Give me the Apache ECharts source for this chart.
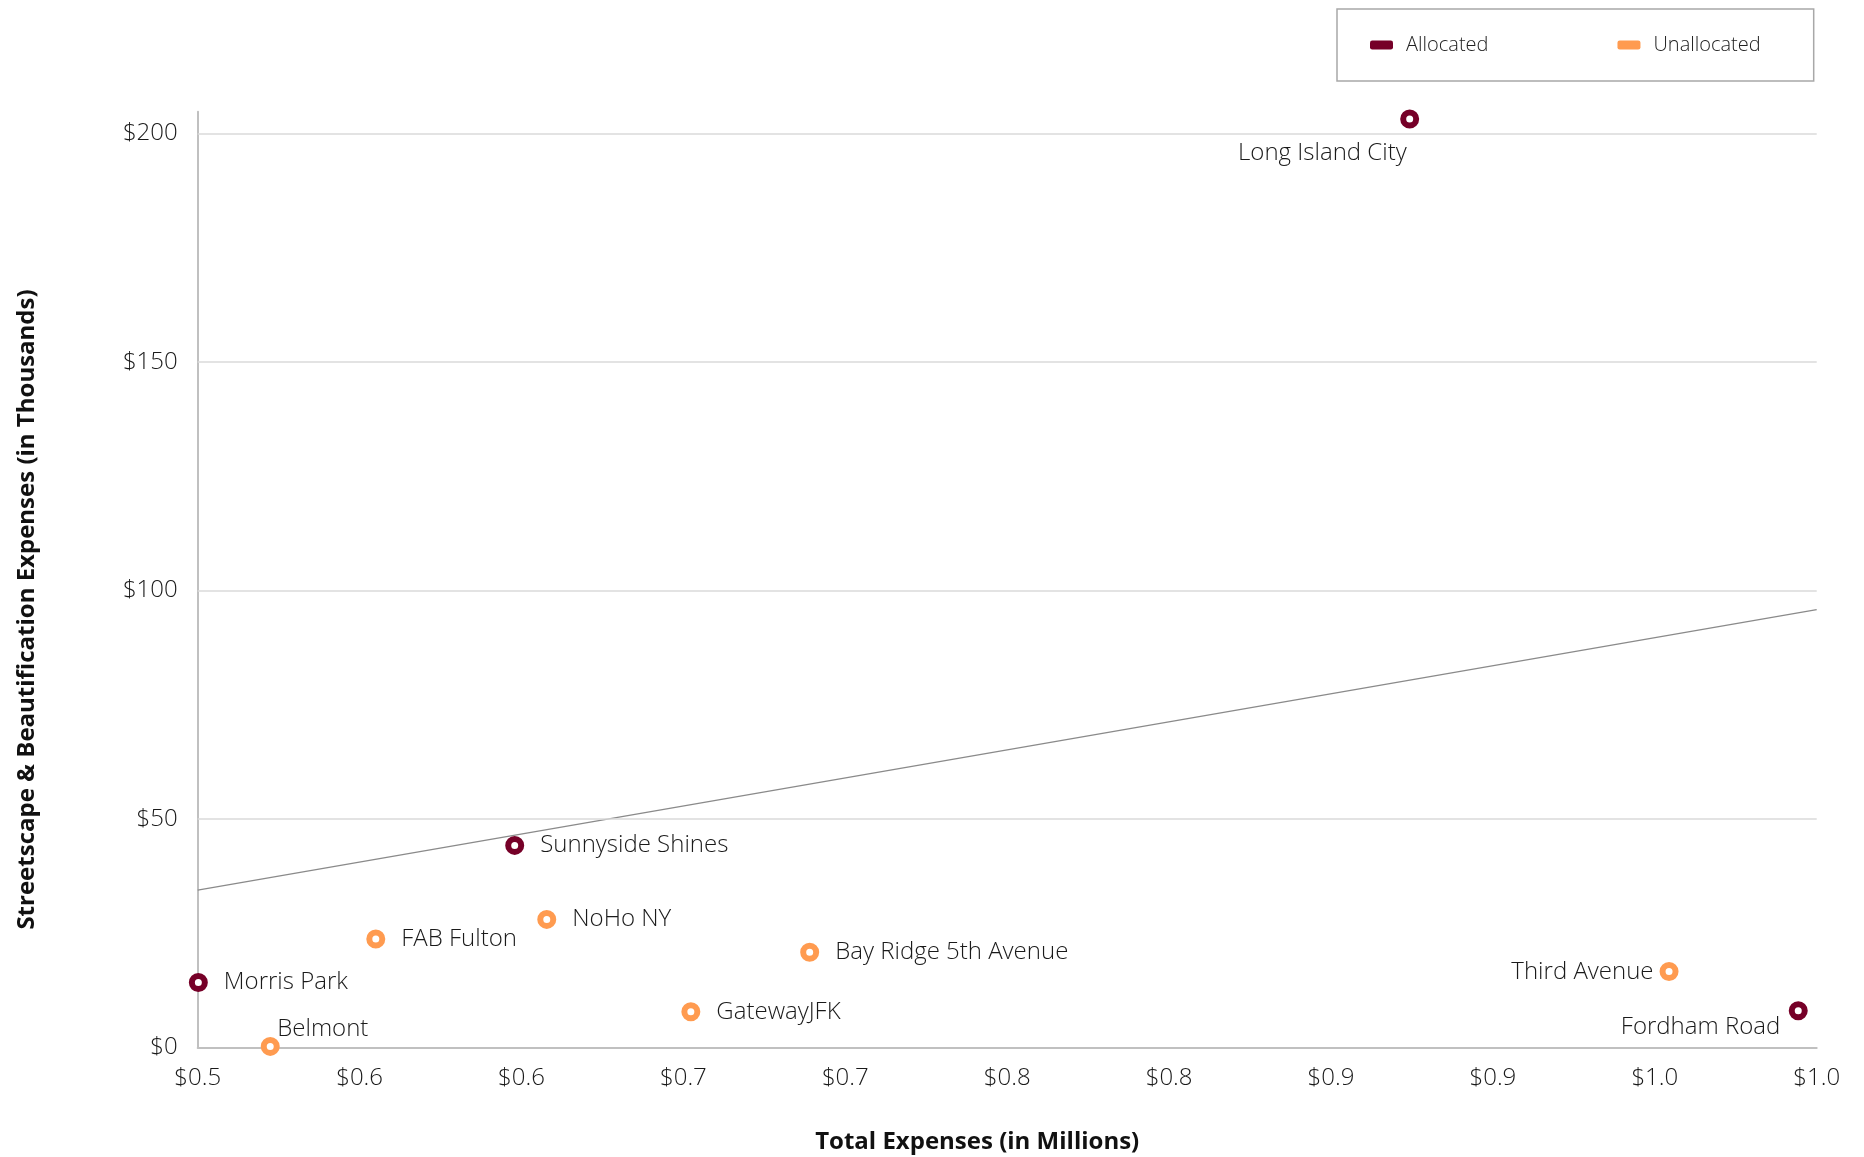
<!DOCTYPE html>
<html>
<head>
<meta charset="utf-8">
<script src="https://cdn.jsdelivr.net/npm/echarts@6/dist/echarts.min.js"></script>
<style>
html,body{margin:0;padding:0;background:#fff;}
#chart{width:1864px;height:1157px;}
</style>
</head>
<body>
<div id="chart"></div>
<script>
// ---- data ----
const allocNames = ['Long Island City', 'Sunnyside Shines', 'Morris Park', 'Fordham Road'];
const allocX = [0.8743, 0.5979, 0.5002, 0.9943];
const allocY = [203.2, 44.2, 14.2, 8.0];

const unallocNames = ['Belmont', 'FAB Fulton', 'NoHo NY', 'Bay Ridge 5th Avenue', 'GatewayJFK', 'Third Avenue'];
const unallocX = [0.5224, 0.5550, 0.6078, 0.6890, 0.6523, 0.9544];
const unallocY = [0.2, 23.7, 28.0, 20.8, 7.8, 16.6];

const trendX = [0.5, 1.0];
const trendY = [34.4, 95.8];

const xTickLabels = ['$0.5', '$0.6', '$0.6', '$0.7', '$0.7', '$0.8', '$0.8', '$0.9', '$0.9', '$1.0', '$1.0'];
const yTickValues = [0, 50, 100, 150, 200];
const yTickLabels = ['$0', '$50', '$100', '$150', '$200'];

// ---- styling ----
const MAROON = '#760028';
const ORANGE = '#ff9b50';
const FONT = '"Open Sans", Lato, sans-serif';
const TEXT = '#1a1a1a';

const labelBase = { show: true, fontFamily: FONT, fontSize: 24, fontWeight: 300, color: TEXT };
const placements = {
  'Long Island City': { position: [6.5, 43.5], align: 'right', verticalAlign: 'middle' },
  'Fordham Road': { position: [-8.5, 25.5], align: 'right', verticalAlign: 'middle' },
  'Third Avenue': { position: [-6, 10], align: 'right', verticalAlign: 'middle' },
  'Belmont': { position: [16.5, -8], align: 'left', verticalAlign: 'middle' }
};
function pointLabel(name) {
  const p = placements[name] || { position: 'right', distance: 16 };
  return Object.assign({}, labelBase, p, { formatter: '{b}' });
}
function buildPoints(names, xs, ys) {
  return names.map((n, i) => ({ name: n, value: [xs[i], ys[i]], label: pointLabel(n) }));
}

const chart = echarts.init(document.getElementById('chart'), null, { renderer: 'canvas' });
chart.setOption({
  animation: false,
  backgroundColor: '#fff',
  textStyle: { fontFamily: FONT },
  grid: { left: 197.7, right: 47.3, top: 111.7, bottom: 109.7, containLabel: false, outerBoundsMode: 'none' },
  legend: {
    left: 1337, top: 9,
    padding: [26, 53, 26, 33],
    borderColor: '#a8a8a8', borderWidth: 1.5,
    itemWidth: 23, itemHeight: 9, itemGap: 129,
    icon: 'roundRect',
    textStyle: { fontFamily: FONT, fontSize: 20, fontWeight: 300, color: '#222', padding: [0, 0, 0, 8] },
    data: [
      { name: 'Allocated', itemStyle: { color: MAROON, borderWidth: 0, opacity: 1 } },
      { name: 'Unallocated', itemStyle: { color: ORANGE, borderWidth: 0, opacity: 1 } }
    ]
  },
  xAxis: {
    type: 'value', min: 0.5, max: 1.0, interval: 0.05,
    name: 'Total Expenses (in Millions)', nameLocation: 'middle', nameGap: 83,
    nameTextStyle: { fontFamily: FONT, fontSize: 24, fontWeight: 'bold', color: '#111', padding: [0, 60, 0, 0] },
    axisLine: { show: true, lineStyle: { color: '#c0c0c0', width: 2 } },
    axisTick: { show: false },
    splitLine: { show: false },
    axisLabel: {
      fontFamily: FONT, fontSize: 24, fontWeight: 300, color: TEXT, margin: 19,
      formatter: v => xTickLabels[Math.round((v - 0.5) / 0.05)] || ''
    }
  },
  yAxis: {
    type: 'value', min: 0, max: 204.8, interval: 50,
    name: 'Streetscape & Beautification Expenses (in Thousands)', nameLocation: 'middle', nameGap: 159,
    nameTextStyle: { fontFamily: FONT, fontSize: 24, fontWeight: 'bold', color: '#111', padding: [0, 60, 0, 0] },
    axisLine: { show: true, lineStyle: { color: '#c0c0c0', width: 2 } },
    axisTick: { show: false },
    splitLine: { show: false },
    axisLabel: {
      fontFamily: FONT, fontSize: 24, fontWeight: 300, color: TEXT, margin: 20,
      formatter: v => { const i = yTickValues.indexOf(Math.round(v * 1000) / 1000); return i >= 0 ? yTickLabels[i] : ''; }
    }
  },
  series: [
    {
      name: 'grid', type: 'line', data: [], silent: true,
      markLine: {
        silent: true, symbol: 'none', animation: false,
        label: { show: false },
        lineStyle: { color: '#dadada', width: 1.5, type: 'solid' },
        data: yTickValues.filter(v => v > 0).map(v => ({ yAxis: v }))
      }
    },
    {
      name: 'trend', type: 'line', silent: true, symbol: 'none', z: 3,
      lineStyle: { color: '#8a8a8a', width: 1.3 },
      data: trendX.map((x, i) => [x, trendY[i]])
    },
    {
      name: 'Allocated', type: 'scatter', z: 5,
      symbol: 'circle', symbolSize: 13,
      itemStyle: { color: '#fff', borderColor: MAROON, borderWidth: 6, opacity: 1 },
      data: buildPoints(allocNames, allocX, allocY)
    },
    {
      name: 'Unallocated', type: 'scatter', z: 5,
      symbol: 'circle', symbolSize: 13,
      itemStyle: { color: '#fff', borderColor: ORANGE, borderWidth: 6, opacity: 1 },
      data: buildPoints(unallocNames, unallocX, unallocY)
    }
  ]
});
</script>
</body>
</html>
